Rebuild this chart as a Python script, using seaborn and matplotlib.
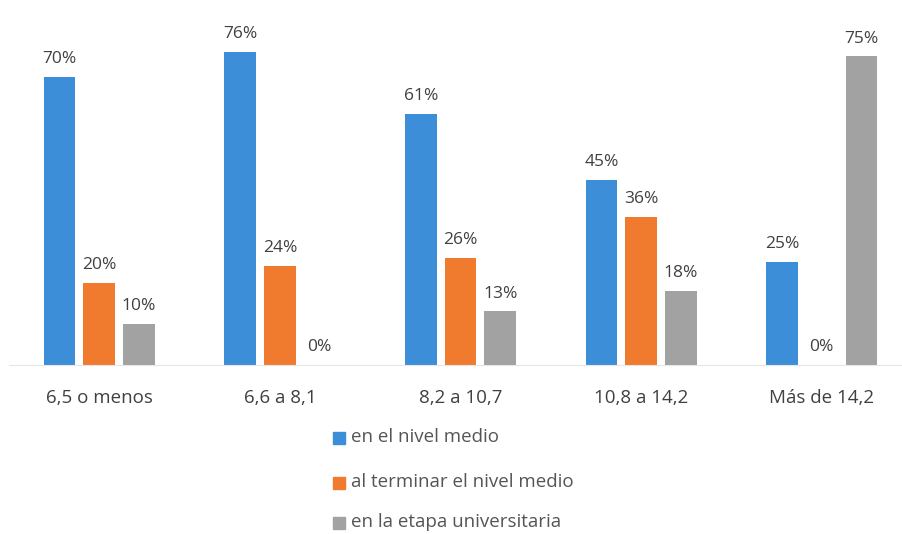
import pandas as pd
import matplotlib.pyplot as plt
import seaborn as sns

# Chart data
categories = ["6,5 o menos", "6,6 a 8,1", "8,2 a 10,7", "10,8 a 14,2", "Más de 14,2"]
series_names = ["en el nivel medio", "al terminar el nivel medio", "en la etapa universitaria"]
nivel_medio = [70, 76, 61, 45, 25]
terminar_medio = [20, 24, 26, 36, 0]
universitaria = [10, 0, 13, 18, 75]

colors = ["#3d8ed9", "#f07b2f", "#a2a2a2"]

rows = []
for name, vals in zip(series_names, [nivel_medio, terminar_medio, universitaria]):
    for cat, v in zip(categories, vals):
        rows.append({"rango": cat, "serie": name, "valor": v})
df = pd.DataFrame(rows)

sns.set_style("white")
plt.rcParams["font.family"] = ["Open Sans", "DejaVu Sans"]

fig = plt.figure(figsize=(9.03, 5.34), dpi=100)
ax = fig.add_axes([0.01, 0.3165, 0.99, 0.6475])

sns.barplot(data=df, x="rango", y="valor", hue="serie", order=categories,
            hue_order=series_names, palette=colors, width=0.66, gap=0.2,
            saturation=1, linewidth=0, ax=ax, legend=False)

for cont in ax.containers:
    ax.bar_label(cont, labels=[f"{int(v)}%" for v in cont.datavalues],
                 padding=7, fontsize=12.5, color="#404040")

ax.set_ylim(0, 84)
ax.set_xlim(-0.5, 4.45)
ax.set_xlabel("")
ax.set_ylabel("")
ax.set_yticks([])
ax.tick_params(axis="x", length=0, labelsize=13.5, labelcolor="#404040", pad=17)
for side in ["top", "right", "left"]:
    ax.spines[side].set_visible(False)
ax.spines["bottom"].set_color("#e6e6e6")

# legend, stacked vertically under the axis
ypos = [0.181, 0.097, 0.022]
for name, col, y in zip(series_names, colors, ypos):
    fig.patches.append(plt.Rectangle((0.369, y - 0.012), 0.013, 0.022,
                                     transform=fig.transFigure, color=col))
    fig.text(0.389, y, name, fontsize=13.5, color="#555555", va="center")

plt.savefig("out.png", dpi=100)
